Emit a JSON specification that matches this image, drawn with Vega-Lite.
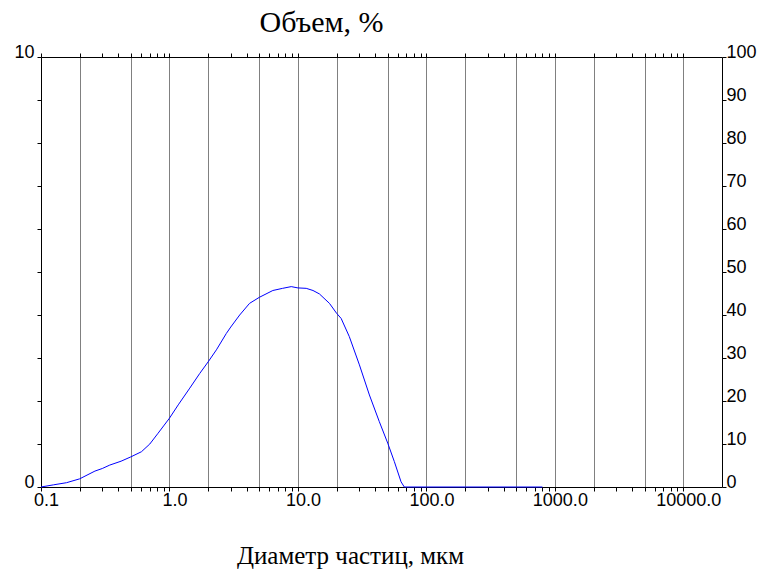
{
  "$schema": "https://vega.github.io/schema/vega-lite/v6.json",
  "width": 681,
  "height": 430,
  "autosize": "none",
  "padding": {"left": 41, "top": 57, "right": 39, "bottom": 83},
  "background": "white",
  "title": {
    "text": "Объем, %",
    "font": "Liberation Serif",
    "fontSize": 30,
    "fontWeight": "normal",
    "color": "black",
    "anchor": "middle",
    "baseline": "alphabetic",
    "offset": -19,
    "dx": -60
  },
  "config": {
    "view": {"stroke": null},
    "axis": {
      "labelFont": "Liberation Sans",
      "labelFontSize": 18,
      "labelColor": "black",
      "domainColor": "black",
      "tickColor": "black",
      "domainWidth": 1,
      "tickWidth": 1
    }
  },
  "data": {
    "values": [
      {"d": 0.1, "v": 0},
      {"d": 0.125, "v": 0.05},
      {"d": 0.158, "v": 0.1},
      {"d": 0.2, "v": 0.19},
      {"d": 0.263, "v": 0.37},
      {"d": 0.3, "v": 0.43},
      {"d": 0.343, "v": 0.51},
      {"d": 0.42, "v": 0.6},
      {"d": 0.5, "v": 0.7},
      {"d": 0.605, "v": 0.82},
      {"d": 0.703, "v": 1.0},
      {"d": 0.815, "v": 1.25},
      {"d": 0.9, "v": 1.42},
      {"d": 1.0, "v": 1.6},
      {"d": 1.17, "v": 1.91},
      {"d": 1.44, "v": 2.3},
      {"d": 1.72, "v": 2.64},
      {"d": 2.0, "v": 2.91},
      {"d": 2.32, "v": 3.19},
      {"d": 2.77, "v": 3.57},
      {"d": 3.0, "v": 3.72},
      {"d": 3.52, "v": 4.0},
      {"d": 4.2, "v": 4.27},
      {"d": 5.0, "v": 4.41},
      {"d": 6.38, "v": 4.57},
      {"d": 7.6, "v": 4.62},
      {"d": 8.87, "v": 4.66},
      {"d": 10, "v": 4.63},
      {"d": 11.6, "v": 4.62},
      {"d": 13.1, "v": 4.57},
      {"d": 14.7, "v": 4.49},
      {"d": 17.6, "v": 4.27},
      {"d": 20, "v": 4.04},
      {"d": 21.7, "v": 3.92},
      {"d": 25.1, "v": 3.5},
      {"d": 30.1, "v": 2.84},
      {"d": 36, "v": 2.14},
      {"d": 43, "v": 1.52},
      {"d": 50, "v": 1.02},
      {"d": 56.3, "v": 0.59},
      {"d": 63.5, "v": 0.12},
      {"d": 67.3, "v": 0},
      {"d": 100, "v": 0},
      {"d": 200, "v": 0},
      {"d": 500, "v": 0},
      {"d": 800, "v": 0}
    ]
  },
  "resolve": {"axis": {"x": "independent", "y": "independent"}},
  "layer": [
    {
      "mark": {"type": "line", "color": "#0000ff", "strokeWidth": 1},
      "encoding": {
        "x": {
          "field": "d", "type": "quantitative",
          "scale": {"type": "log", "domain": [0.1, 20000], "nice": false},
          "axis": {
            "orient": "bottom", "title": null, "labels": false, "ticks": false, "domain": false,
            "grid": true, "gridColor": "#808080", "gridWidth": 1, "gridOpacity": 1,
            "values": [0.2, 0.5, 1, 2, 5, 10, 20, 50, 100, 200, 500, 1000, 2000, 5000, 10000]
          }
        },
        "y": {
          "field": "v", "type": "quantitative",
          "scale": {"domain": [0, 10], "nice": false},
          "axis": {
            "orient": "left", "title": null, "grid": false,
            "values": [0, 1, 2, 3, 4, 5, 6, 7, 8, 9, 10],
            "tickSize": 4, "labelPadding": 3, "labelBaseline": "alphabetic",
            "labelExpr": "datum.value == 0 || datum.value == 10 ? datum.label : ''"
          }
        }
      }
    },
    {
      "mark": {"type": "line", "opacity": 0},
      "encoding": {
        "x": {
          "field": "d", "type": "quantitative",
          "axis": {
            "orient": "bottom", "grid": false, "tickSize": 4, "labelPadding": 0,
            "labelOffset": 5,
            "values": [0.1, 0.2, 0.3, 0.4, 0.5, 0.6, 0.7, 0.8, 0.9, 1, 2, 3, 4, 5, 6, 7, 8, 9, 10, 20, 30, 40, 50, 60, 70, 80, 90, 100, 200, 300, 400, 500, 600, 700, 800, 900, 1000, 2000, 3000, 4000, 5000, 6000, 7000, 8000, 9000, 10000],
            "labelExpr": "indexof(['0.1','1','10','100','1000','10000'], '' + datum.value) >= 0 ? format(datum.value, '.1f') : ''",
            "labelFlush": false, "labelOverlap": false,
            "title": "Диаметр частиц, мкм",
            "titleFont": "Liberation Serif", "titleFontSize": 25, "titleFontWeight": "normal",
            "titleColor": "black", "titleX": 309, "titleY": 76, "titleBaseline": "alphabetic",
            "titleAlign": "center", "titleAnchor": null
          }
        },
        "y": {
          "field": "v", "type": "quantitative",
          "axis": {
            "orient": "right", "title": null, "grid": false,
            "values": [0, 1, 2, 3, 4, 5, 6, 7, 8, 9, 10],
            "tickSize": 4, "labelPadding": 0, "labelBaseline": "alphabetic",
            "labelExpr": "format(datum.value * 10, 'd')"
          }
        }
      }
    },
    {
      "mark": {"type": "line", "opacity": 0},
      "encoding": {
        "x": {
          "field": "d", "type": "quantitative",
          "axis": {
            "orient": "top", "title": null, "grid": false, "labels": false, "tickSize": 4,
            "values": [0.1, 0.2, 0.3, 0.4, 0.5, 0.6, 0.7, 0.8, 0.9, 1, 2, 3, 4, 5, 6, 7, 8, 9, 10, 20, 30, 40, 50, 60, 70, 80, 90, 100, 200, 300, 400, 500, 600, 700, 800, 900, 1000, 2000, 3000, 4000, 5000, 6000, 7000, 8000, 9000, 10000]
          }
        },
        "y": {
          "field": "v", "type": "quantitative",
          "axis": null
        }
      }
    }
  ]
}
